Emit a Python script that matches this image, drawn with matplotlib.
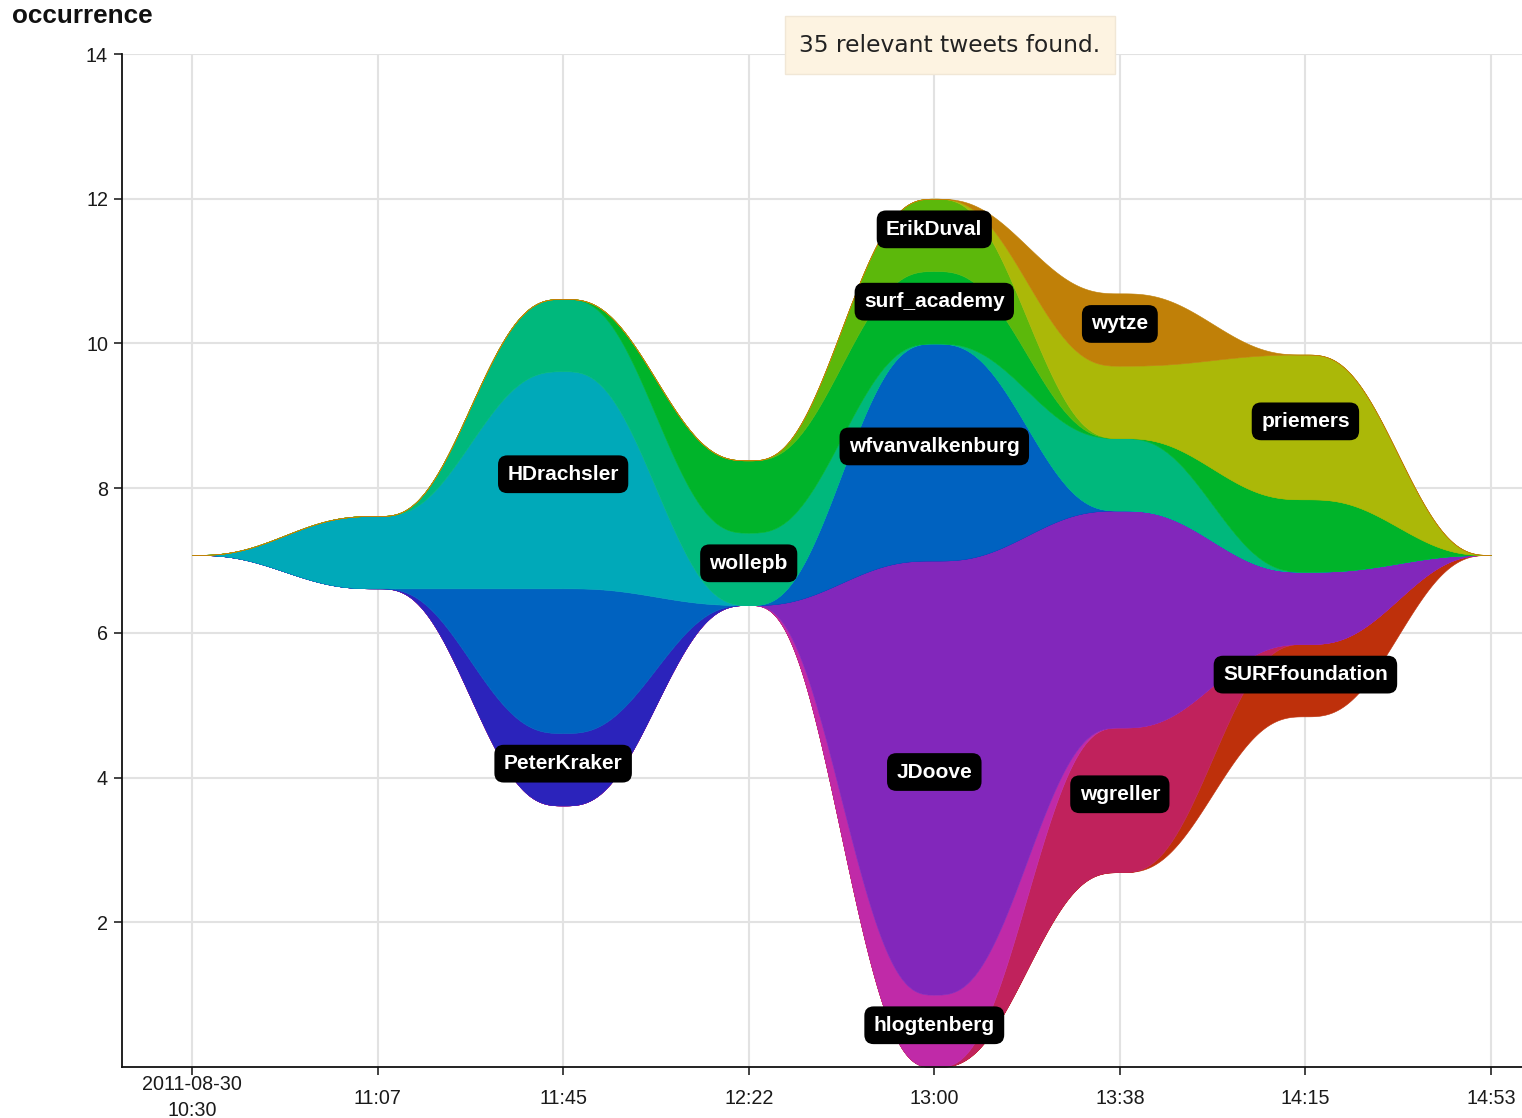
import numpy as np
import matplotlib
matplotlib.use("Agg")
import matplotlib.pyplot as plt
from matplotlib import transforms
from matplotlib.patches import Rectangle

# ---------------- data ----------------
time_labels = ["2011-08-30\n10:30", "11:07", "11:45", "12:22", "13:00", "13:38", "14:15", "14:53"]

users = ["SURFfoundation", "wgreller", "hlogtenberg", "JDoove", "PeterKraker",
         "wfvanvalkenburg", "HDrachsler", "wollepb", "surf_academy",
         "ErikDuval", "priemers", "wytze"]

SURFfoundation  = [0, 0, 0, 0, 0, 0, 1, 0]
wgreller        = [0, 0, 0, 0, 0, 2, 0, 0]
hlogtenberg     = [0, 0, 0, 0, 1, 0, 0, 0]
JDoove          = [0, 0, 0, 0, 6, 3, 1, 0]
PeterKraker     = [0, 0, 1, 0, 0, 0, 0, 0]
wfvanvalkenburg = [0, 0, 2, 0, 3, 0, 0, 0]
HDrachsler      = [0, 1, 3, 0, 0, 0, 0, 0]
wollepb         = [0, 0, 1, 1, 0, 1, 0, 0]
surf_academy    = [0, 0, 0, 1, 1, 0, 1, 0]
ErikDuval       = [0, 0, 0, 0, 1, 0, 0, 0]
priemers        = [0, 0, 0, 0, 0, 1, 2, 0]
wytze           = [0, 0, 0, 0, 0, 1, 0, 0]

# time slot at which each user's label is shown
label_slot = {"SURFfoundation": 6, "wgreller": 5, "hlogtenberg": 4, "JDoove": 4,
              "PeterKraker": 2, "wfvanvalkenburg": 4, "HDrachsler": 2, "wollepb": 3,
              "surf_academy": 4, "ErikDuval": 4, "priemers": 6, "wytze": 5}

colors = ["#be300b", "#c0225c", "#c02aa8", "#8227bb", "#2b23bb", "#0062c0",
          "#00a9b9", "#00b87c", "#00b42a", "#5cb80b", "#abb808", "#c08008"]

y_ticks = [2, 4, 6, 8, 10, 12, 14]

# ---------------- layout computation ----------------
Y = np.array([SURFfoundation, wgreller, hlogtenberg, JDoove, PeterKraker,
              wfvanvalkenburg, HDrachsler, wollepb, surf_academy,
              ErikDuval, priemers, wytze], dtype=float)
n, m = Y.shape
weights = (n - np.arange(n))[:, None]
base = -(weights * Y).sum(0) / (n + 1)      # wiggle baseline
base -= base.min()
bounds = np.vstack([base, base + np.cumsum(Y, axis=0)])  # (n+1, m)

xnodes = np.arange(m)
xf = np.linspace(0, m - 1, 1400)


def smooth(vals):
    vals = np.asarray(vals, dtype=float)
    i = np.clip(np.floor(xf).astype(int), 0, m - 2)
    s = xf - i
    h = s ** 3 * (10 - 15 * s + 6 * s ** 2)
    return vals[i] + (vals[i + 1] - vals[i]) * h


curves = [smooth(b) for b in bounds]

# ---------------- figure ----------------
W, H = 1522, 1118
fig = plt.figure(figsize=(W / 100, H / 100), dpi=100)
plt.rcParams["font.family"] = ["Liberation Sans", "DejaVu Sans"]

left_px, right_px, top_px, bottom_px = 122, 1522, 54, 1067
ax = fig.add_axes([left_px / W, 1 - bottom_px / H,
                   (right_px - left_px) / W, (bottom_px - top_px) / H])

px_per_unit = (1491 - 192) / 7.0
ax.set_xlim(-(192 - left_px) / px_per_unit, 7 + (right_px - 1491) / px_per_unit)
ax.set_ylim(0, 14)

for k in range(n):
    ax.fill_between(xf, curves[k], curves[k + 1], facecolor=colors[k],
                    edgecolor=colors[k], linewidth=0.4, zorder=2)

# labels
for k, name in enumerate(users):
    j = label_slot[name]
    mid = (bounds[k, j] + bounds[k + 1, j]) / 2.0
    ax.annotate(name, xy=(j, mid), xytext=(0, 4), textcoords="offset points",
                ha="center", va="center", color="white", fontsize=15,
                fontweight="bold", zorder=5,
                bbox=dict(boxstyle="round,pad=0.45,rounding_size=0.45",
                          fc="black", ec="none"))

# grid & axes
ax.set_xticks(xnodes)
ax.set_xticklabels([""] + time_labels[1:])
ax.set_yticks(y_ticks)
ax.set_yticklabels([str(v) for v in y_ticks])
ax.grid(True, color="#e2e2e2", linewidth=1.5, zorder=0)
ax.set_axisbelow(True)
for sp in ["top", "right"]:
    ax.spines[sp].set_visible(False)
for sp in ["left", "bottom"]:
    ax.spines[sp].set_color("#111111")
    ax.spines[sp].set_linewidth(1.3)
ax.tick_params(axis="both", length=5.5, width=1.1, color="#111111",
               labelsize=14.2, labelcolor="#1a1a1a")
ax.tick_params(axis="x", pad=10.5)
ax.tick_params(axis="y", pad=4.5)

# first (two-line) x label
trans = transforms.blended_transform_factory(ax.transData, fig.transFigure)
ax.text(0, 1 - 1097.5 / H, time_labels[0], transform=trans, ha="center",
        va="center", fontsize=14.2, color="#1a1a1a", linespacing=1.4,
        multialignment="center")

# title-like y label
fig.text(12 / W, 1 - 16 / H, "occurrence", ha="left", va="center",
         fontsize=18.8, fontweight="bold", color="#111111")

# info box
fig.add_artist(Rectangle((785 / W, 1 - 74 / H), 330 / W, 58 / H,
                         transform=fig.transFigure, facecolor="#fdf3e1",
                         edgecolor="#f1e7d6", linewidth=1.0, zorder=9))
fig.text(950 / W, 1 - 45.5 / H, "35 relevant tweets found.", ha="center",
         va="center", fontsize=16.8, family="DejaVu Sans", color="#222222",
         zorder=10)

fig.savefig("out.png", dpi=100)
